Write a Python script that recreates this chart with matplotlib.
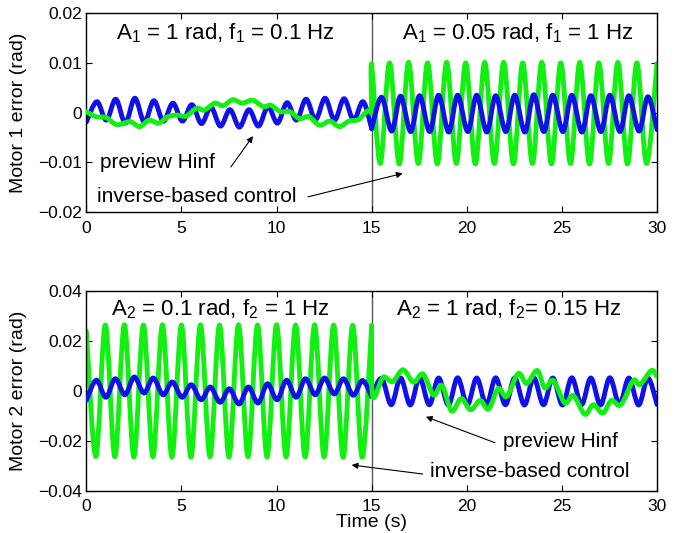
import numpy as np
import matplotlib
matplotlib.use("Agg")
import matplotlib.pyplot as plt
from matplotlib.path import Path
from matplotlib.patches import PathPatch

plt.rcParams['font.family'] = ['Liberation Sans', 'DejaVu Sans']
plt.rcParams['mathtext.fontset'] = 'custom'
plt.rcParams['mathtext.rm'] = 'Liberation Sans'
plt.rcParams['mathtext.it'] = 'Liberation Sans:italic'
plt.rcParams['mathtext.bf'] = 'Liberation Sans:bold'

# ---- data (turning points of each trace) ----
# motor 1, preview Hinf (blue)
m1_blue_a_t = [0.0, 0.55, 1.05, 1.55, 2.05, 2.55, 3.05, 3.55, 4.05, 4.55, 5.05, 5.55, 6.05, 6.55, 7.05, 7.55,
               8.05, 8.55, 9.05, 9.55, 10.05, 10.55, 11.05, 11.55, 12.05, 12.55, 13.05, 13.55, 14.05, 14.55, 15.0]
m1_blue_a_v = [-0.0019, 0.0022, -0.0015, 0.0027, -0.0021, 0.0029, -0.0019, 0.0024, -0.0017, 0.0019, -0.0017,
               0.0016, -0.0022, 0.0011, -0.0027, 0.0006, -0.0029, 0.0006, -0.0027, 0.0012, -0.0021, 0.0020,
               -0.0015, 0.0027, -0.0014, 0.0029, -0.0015, 0.0028, -0.0015, 0.0022, -0.0032]
m1_blue_b_t = [15.0, 15.52, 16.05, 16.52, 17.05, 17.52, 18.05, 18.52, 19.05, 19.52, 20.05, 20.52, 21.05, 21.52,
               22.05, 22.52, 23.05, 23.52, 24.05, 24.52, 25.05, 25.52, 26.05, 26.52, 27.05, 27.52, 28.05, 28.52,
               29.05, 29.52, 30.0]
m1_blue_b_v = [-0.0032, 0.0031, -0.0037, 0.0033, -0.0038, 0.0034, -0.0038, 0.0035, -0.0039, 0.0035, -0.0038,
               0.0035, -0.0039, 0.0034, -0.0038, 0.0035, -0.0039, 0.0036, -0.0038, 0.0035, -0.0038, 0.0035,
               -0.0039, 0.0034, -0.0038, 0.0035, -0.0038, 0.0034, -0.0037, 0.0032, -0.0034]
# motor 1, inverse-based control (green)
m1_green_a_t = [0.0, 0.5, 1.05, 1.6, 2.3, 2.8, 3.3, 3.8, 4.3, 4.8, 5.25, 5.8, 6.2, 6.75, 7.2, 7.7, 8.2, 8.75,
                9.3, 9.7, 10.2, 10.7, 11.2, 11.7, 12.25, 12.8, 13.3, 13.8, 14.3, 14.8, 15.0]
m1_green_a_v = [0.0002, -0.0008, -0.0010, -0.0024, -0.0018, -0.0028, -0.0015, -0.0021, -0.0008, -0.0005,
                -0.0007, 0.0009, 0.0005, 0.0019, 0.0014, 0.0026, 0.0019, 0.0025, 0.0012, 0.0015, 0.0002,
                0.0002, -0.0012, -0.0008, -0.0025, -0.0017, -0.0028, -0.0017, -0.0014, 0.0004, -0.0001]
m1_green_b_t = [15.0, 15.0, 15.45, 15.94, 16.45, 16.94, 17.45, 17.94, 18.45, 18.94, 19.45, 19.94, 20.45, 20.94,
                21.45, 21.94, 22.45, 22.94, 23.45, 23.94, 24.45, 24.94, 25.45, 25.94, 26.45, 26.94, 27.45,
                27.94, 28.45, 28.94, 29.45, 30.0]
m1_green_b_v = [-0.0001, 0.0096, -0.0102, 0.0100, -0.0103, 0.0101, -0.0102, 0.0100, -0.0103, 0.0101, -0.0102,
                0.0100, -0.0103, 0.0101, -0.0102, 0.0101, -0.0103, 0.0100, -0.0102, 0.0101, -0.0103, 0.0100,
                -0.0102, 0.0101, -0.0103, 0.0100, -0.0102, 0.0101, -0.0103, 0.0100, -0.0102, 0.0099]

# motor 2, preview Hinf (blue)
m2_blue_a_t = [0.0, 0.52, 1.03, 1.52, 2.03, 2.52, 3.03, 3.52, 4.03, 4.52, 5.03, 5.52, 6.03, 6.52, 7.03, 7.52,
               8.03, 8.52, 9.03, 9.52, 10.03, 10.52, 11.03, 11.52, 12.03, 12.52, 13.03, 13.52, 14.03, 14.52, 15.0]
m2_blue_a_v = [-0.0037, 0.0043, -0.0025, 0.0049, -0.0015, 0.0056, -0.0008, 0.0052, -0.0015, 0.0036, -0.0025,
               0.0025, -0.0035, 0.0016, -0.0045, 0.0009, -0.0052, 0.0016, -0.0048, 0.0029, -0.0035, 0.0043,
               -0.0025, 0.0049, -0.0015, 0.0052, -0.0012, 0.0049, -0.0017, 0.0042, -0.0022]
m2_blue_b_t = [15.0, 15.52, 16.03, 16.52, 17.03, 17.52, 18.03, 18.52, 19.03, 19.52, 20.03, 20.52, 21.03, 21.52,
               22.03, 22.52, 23.03, 23.52, 24.03, 24.52, 25.03, 25.52, 26.03, 26.52, 27.03, 27.52, 28.03, 28.52,
               29.03, 29.52, 30.0]
m2_blue_b_v = [-0.0022, 0.0050, -0.0055, 0.0052, -0.0056, 0.0053, -0.0055, 0.0052, -0.0056, 0.0053, -0.0055,
               0.0052, -0.0056, 0.0053, -0.0055, 0.0052, -0.0056, 0.0053, -0.0055, 0.0052, -0.0056, 0.0053,
               -0.0055, 0.0052, -0.0056, 0.0053, -0.0055, 0.0052, -0.0056, 0.0052, -0.0054]
# motor 2, inverse-based control (green)
m2_green_a_t = [0.0, 0.5, 1.0, 1.5, 2.0, 2.5, 3.0, 3.5, 4.0, 4.5, 5.0, 5.5, 6.0, 6.5, 7.0, 7.5, 8.0, 8.5, 9.0,
                9.5, 10.0, 10.5, 11.0, 11.5, 12.0, 12.5, 13.0, 13.5, 14.0, 14.5, 15.0]
m2_green_a_v = [0.0240, -0.0262, 0.0264, -0.0263, 0.0265, -0.0264, 0.0264, -0.0263, 0.0265, -0.0264, 0.0264,
                -0.0265, 0.0265, -0.0263, 0.0264, -0.0264, 0.0265, -0.0263, 0.0264, -0.0264, 0.0265, -0.0263,
                0.0264, -0.0264, 0.0265, -0.0264, 0.0264, -0.0265, 0.0263, -0.0265, 0.0262]
m2_green_b_t = [15.0, 15.05, 15.6, 16.1, 16.65, 17.2, 17.7, 18.25, 18.7, 19.2, 19.7, 20.2, 20.7, 21.15, 21.65,
                22.1, 22.7, 23.15, 23.7, 24.1, 24.55, 25.15, 25.6, 26.2, 26.65, 27.15, 27.6, 28.1, 28.75, 29.1,
                29.7, 30.0]
m2_green_b_v = [0.0262, -0.0020, 0.0055, 0.0037, 0.0085, 0.0035, 0.0068, -0.0016, 0.0022, -0.0080, -0.0030,
                -0.0075, -0.0038, -0.0072, 0.0010, -0.0022, 0.0070, 0.0030, 0.0082, 0.0012, 0.0042, -0.0048,
                -0.0018, -0.0093, -0.0055, -0.0088, -0.0038, -0.0055, 0.0042, 0.0025, 0.0082, 0.0058]

time_ticks = [0, 5, 10, 15, 20, 25, 30]
m1_ticks = [-0.02, -0.01, 0, 0.01, 0.02]
m1_tick_labels = ['\u22120.02', '\u22120.01', '0', '0.01', '0.02']
m2_ticks = [-0.04, -0.02, 0, 0.02, 0.04]
m2_tick_labels = ['\u22120.04', '\u22120.02', '0', '0.02', '0.04']

BLUE = '#1010e8'
GREEN = '#12f012'


def draw_trace(ax, t, v, color, z):
    # smooth curve through the turning points (catmull-rom drawn as bezier)
    pts = np.column_stack([t, v])
    n = len(pts)
    verts = [pts[0]]
    codes = [Path.MOVETO]
    for i in range(n - 1):
        p0 = pts[max(i - 1, 0)]
        p1 = pts[i]
        p2 = pts[i + 1]
        p3 = pts[min(i + 2, n - 1)]
        verts += [p1 + (p2 - p0) / 6, p2 - (p3 - p1) / 6, p2]
        codes += [Path.CURVE4] * 3
    ax.add_patch(PathPatch(Path(verts, codes), fill=False, edgecolor=color, lw=3.5,
                           zorder=z, capstyle='round', joinstyle='round'))


def style_axes(ax, yt, ylab):
    ax.set_xlim(0, 30)
    ax.set_ylim(yt[0], yt[-1])
    ax.set_xticks(time_ticks)
    ax.set_xticklabels([str(x) for x in time_ticks])
    ax.set_yticks(yt)
    ax.set_yticklabels(ylab)
    ax.tick_params(direction='in', top=True, right=True, length=4, width=0.8, labelsize=12.5)
    ax.tick_params(axis='x', pad=6)
    ax.tick_params(axis='y', pad=3)
    for s in ax.spines.values():
        s.set_linewidth(1.0)
    ax.axvline(15, color='#555555', lw=1.0, zorder=1)


arrow = dict(arrowstyle='-|>', color='k', lw=0.8, mutation_scale=9, shrinkA=0, shrinkB=0)

fig = plt.figure(figsize=(6.9, 5.33), dpi=100)

# ---------------- motor 1 ----------------
ax1 = fig.add_axes([0.1251, 0.6017, 0.8271, 0.3739])
style_axes(ax1, m1_ticks, m1_tick_labels)
draw_trace(ax1, m1_blue_a_t, m1_blue_a_v, BLUE, 2)
draw_trace(ax1, m1_green_a_t, m1_green_a_v, GREEN, 3)
draw_trace(ax1, m1_green_b_t, m1_green_b_v, GREEN, 2)
draw_trace(ax1, m1_blue_b_t, m1_blue_b_v, BLUE, 3)
ax1.set_ylabel('Motor 1 error (rad)', fontsize=14)
ax1.yaxis.set_label_coords(-0.104, 0.5)
ax1.text(7.3, 0.016, r'A$_{\mathrm{1}}$ = 1 rad, f$_{\mathrm{1}}$ = 0.1 Hz', ha='center', va='center', fontsize=16)
ax1.text(22.67, 0.016, r'A$_{\mathrm{1}}$ = 0.05 rad, f$_{\mathrm{1}}$ = 1 Hz', ha='center', va='center', fontsize=16)
ax1.text(0.72, -0.0101, 'preview Hinf', ha='left', va='center', fontsize=15)
ax1.text(0.57, -0.0169, 'inverse-based control', ha='left', va='center', fontsize=15)
ax1.annotate('', xy=(8.76, -0.0047), xytext=(7.6, -0.0109), arrowprops=arrow)
ax1.annotate('', xy=(16.63, -0.0122), xytext=(11.65, -0.0169), arrowprops=arrow)

# ---------------- motor 2 ----------------
ax2 = fig.add_axes([0.1251, 0.0788, 0.8271, 0.3752])
style_axes(ax2, m2_ticks, m2_tick_labels)
draw_trace(ax2, m2_green_a_t, m2_green_a_v, GREEN, 2)
draw_trace(ax2, m2_blue_a_t, m2_blue_a_v, BLUE, 3)
draw_trace(ax2, m2_blue_b_t, m2_blue_b_v, BLUE, 2)
draw_trace(ax2, m2_green_b_t, m2_green_b_v, GREEN, 3)
ax2.set_ylabel('Motor 2 error (rad)', fontsize=14)
ax2.yaxis.set_label_coords(-0.104, 0.5)
ax2.set_xlabel('Time (s)', fontsize=14)
ax2.xaxis.set_label_coords(0.5, -0.113)
ax2.text(7.03, 0.0327, r'A$_{\mathrm{2}}$ = 0.1 rad, f$_{\mathrm{2}}$ = 1 Hz', ha='center', va='center', fontsize=16)
ax2.text(22.21, 0.0327, r'A$_{\mathrm{2}}$ = 1 rad, f$_{\mathrm{2}}$= 0.15 Hz', ha='center', va='center', fontsize=16)
ax2.text(21.9, -0.0203, 'preview Hinf', ha='left', va='center', fontsize=15)
ax2.text(18.06, -0.0323, 'inverse-based control', ha='left', va='center', fontsize=15)
ax2.annotate('', xy=(17.85, -0.0103), xytext=(21.48, -0.0207), arrowprops=arrow)
ax2.annotate('', xy=(13.95, -0.0296), xytext=(17.68, -0.0332), arrowprops=arrow)

fig.savefig('out.png', dpi=100)
